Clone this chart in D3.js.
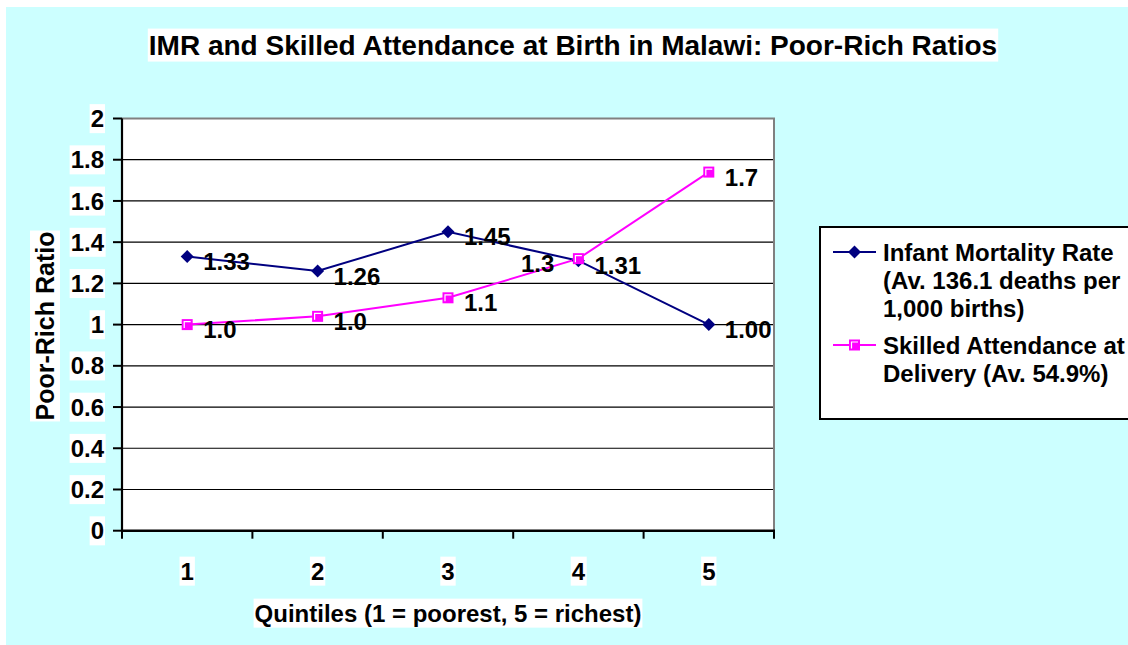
<!DOCTYPE html>
<html>
<head>
<meta charset="utf-8">
<script src="https://cdn.jsdelivr.net/npm/d3@7"></script>
<style>
  body { margin: 0; background: #fff; }
  svg { display: block; }
  text { font-family: "Liberation Sans", Arial, sans-serif; font-weight: bold; fill: #000; }
</style>
</head>
<body>
<svg width="1128" height="645"></svg>
<script>
var quintiles = [1, 2, 3, 4, 5];
var imrValues = [1.33, 1.26, 1.45, 1.31, 1.00];
var imrLabels = ["1.33", "1.26", "1.45", "1.31", "1.00"];
var sbaValues = [1.00, 1.04, 1.13, 1.32, 1.74];
var sbaLabels = ["1.0", "1.0", "1.1", "1.3", "1.7"];
var yTicks = [0, 0.2, 0.4, 0.6, 0.8, 1, 1.2, 1.4, 1.6, 1.8, 2];
var yTickLabels = ["0", "0.2", "0.4", "0.6", "0.8", "1", "1.2", "1.4", "1.6", "1.8", "2"];
var legendImr = ["Infant Mortality Rate", "(Av. 136.1 deaths per", "1,000 births)"];
var legendSba = ["Skilled Attendance at", "Delivery (Av. 54.9%)"];

var svg = d3.select('svg');
var fs = 24;

// background
svg.append('rect').attr('x', 6).attr('y', 7).attr('width', 1122).attr('height', 638).attr('fill', '#ccffff');

var x = d3.scaleBand().domain(quintiles).range([122, 774]);
var y = d3.scaleLinear().domain([0, 2]).range([530.7, 118.5]);
var cx = d => x(d) + x.bandwidth() / 2;

// plot area
svg.append('rect').attr('x', 122).attr('y', y(2)).attr('width', 652).attr('height', y(0) - y(2)).attr('fill', '#fff');

// gridlines
svg.append('g').selectAll('line').data(yTicks.filter(d => d > 0 && d < 2)).enter().append('line')
  .attr('x1', 122).attr('x2', 774).attr('y1', d => y(d)).attr('y2', d => y(d))
  .attr('stroke', '#000').attr('stroke-width', 1.2);

// gray top/right border
svg.append('path').attr('d', 'M122,' + y(2) + 'H774V' + y(0)).attr('fill', 'none').attr('stroke', '#808080').attr('stroke-width', 2);

// y axis
svg.append('line').attr('x1', 122).attr('x2', 122).attr('y1', y(2)).attr('y2', y(0)).attr('stroke', '#000').attr('stroke-width', 2.2);
svg.append('g').selectAll('line').data(yTicks).enter().append('line')
  .attr('x1', 113).attr('x2', 122).attr('y1', d => y(d)).attr('y2', d => y(d))
  .attr('stroke', '#000').attr('stroke-width', 2);

// x axis
svg.append('line').attr('x1', 121).attr('x2', 775).attr('y1', y(0)).attr('y2', y(0)).attr('stroke', '#000').attr('stroke-width', 2.6);
var bounds = quintiles.map(d => x(d)).concat([x.range()[1]]);
svg.append('g').selectAll('line').data(bounds).enter().append('line')
  .attr('x1', d => d).attr('x2', d => d).attr('y1', y(0)).attr('y2', y(0) + 8)
  .attr('stroke', '#000').attr('stroke-width', 2);

// labels with white boxes
function boxedText(g, tx, ty, str, anchor, size, rotate) {
  var grp = g.append('g').attr('transform', 'translate(' + tx + ',' + ty + ')' + (rotate ? ' rotate(-90)' : ''));
  var r = grp.append('rect').attr('fill', '#fff');
  var t = grp.append('text').attr('text-anchor', anchor).attr('font-size', size).attr('y', size * 0.36).text(str);
  var b = t.node().getBBox();
  r.attr('x', b.x - 1).attr('y', b.y - 1).attr('width', b.width + 2).attr('height', b.height + 2);
  return t;
}

var labels = svg.append('g');
yTicks.forEach((d, i) => boxedText(labels, 104, y(d), yTickLabels[i], 'end', fs));
quintiles.forEach(d => boxedText(labels, cx(d), 571, String(d), 'middle', fs));
boxedText(labels, 448, 613, 'Quintiles (1 = poorest, 5 = richest)', 'middle', fs);
boxedText(labels, 45, 326, 'Poor-Rich Ratio', 'middle', 25, true);
boxedText(labels, 573, 44.5, 'IMR and Skilled Attendance at Birth in Malawi: Poor-Rich Ratios', 'middle', 28);

// series
var line = d3.line().x((d, i) => cx(quintiles[i])).y(d => y(d));
svg.append('path').datum(imrValues).attr('d', line).attr('fill', 'none').attr('stroke', '#000080').attr('stroke-width', 2);
svg.append('path').datum(sbaValues).attr('d', line).attr('fill', 'none').attr('stroke', '#ff00ff').attr('stroke-width', 2);

function diamond(g, px, py) {
  g.append('path').attr('d', 'M' + px + ',' + (py - 6.5) + 'L' + (px + 6.5) + ',' + py + 'L' + px + ',' + (py + 6.5) + 'L' + (px - 6.5) + ',' + py + 'Z')
    .attr('fill', '#000080');
}
function square(g, px, py) {
  g.append('rect').attr('x', px - 5.5).attr('y', py - 5.5).attr('width', 11).attr('height', 11).attr('fill', '#ff00ff');
  g.append('path').attr('d', 'M' + (px - 3) + ',' + (py + 3.5) + 'V' + (py - 3) + 'H' + (px + 3.5))
    .attr('fill', 'none').attr('stroke', '#fff').attr('stroke-width', 1.2);
}

var marks = svg.append('g');
imrValues.forEach((v, i) => diamond(marks, cx(quintiles[i]), y(v)));
sbaValues.forEach((v, i) => square(marks, cx(quintiles[i]), y(v)));

// data labels
var dl = svg.append('g');
imrValues.forEach((v, i) => {
  dl.append('text').attr('x', cx(quintiles[i]) + 16).attr('y', y(v) + 13.5).attr('font-size', fs).text(imrLabels[i]);
});
sbaValues.forEach((v, i) => {
  var left = i === 3;
  dl.append('text').attr('x', cx(quintiles[i]) + (left ? -24 : 16)).attr('y', y(v) + 13.5)
    .attr('text-anchor', left ? 'end' : 'start').attr('font-size', fs).text(sbaLabels[i]);
});

// legend
var lg = svg.append('g');
lg.append('rect').attr('x', 820).attr('y', 227).attr('width', 320).attr('height', 192)
  .attr('fill', '#fff').attr('stroke', '#000').attr('stroke-width', 2);
lg.append('line').attr('x1', 833).attr('x2', 876).attr('y1', 252).attr('y2', 252).attr('stroke', '#000080').attr('stroke-width', 2);
diamond(lg, 854.5, 252);
lg.append('line').attr('x1', 833).attr('x2', 876).attr('y1', 345).attr('y2', 345).attr('stroke', '#ff00ff').attr('stroke-width', 2);
square(lg, 854.5, 345);
legendImr.forEach((s, i) => lg.append('text').attr('x', 883).attr('y', 260.5 + i * 28.3).attr('font-size', fs).text(s));
legendSba.forEach((s, i) => lg.append('text').attr('x', 883).attr('y', 353.5 + i * 28.3).attr('font-size', fs).text(s));
</script>
</body>
</html>
